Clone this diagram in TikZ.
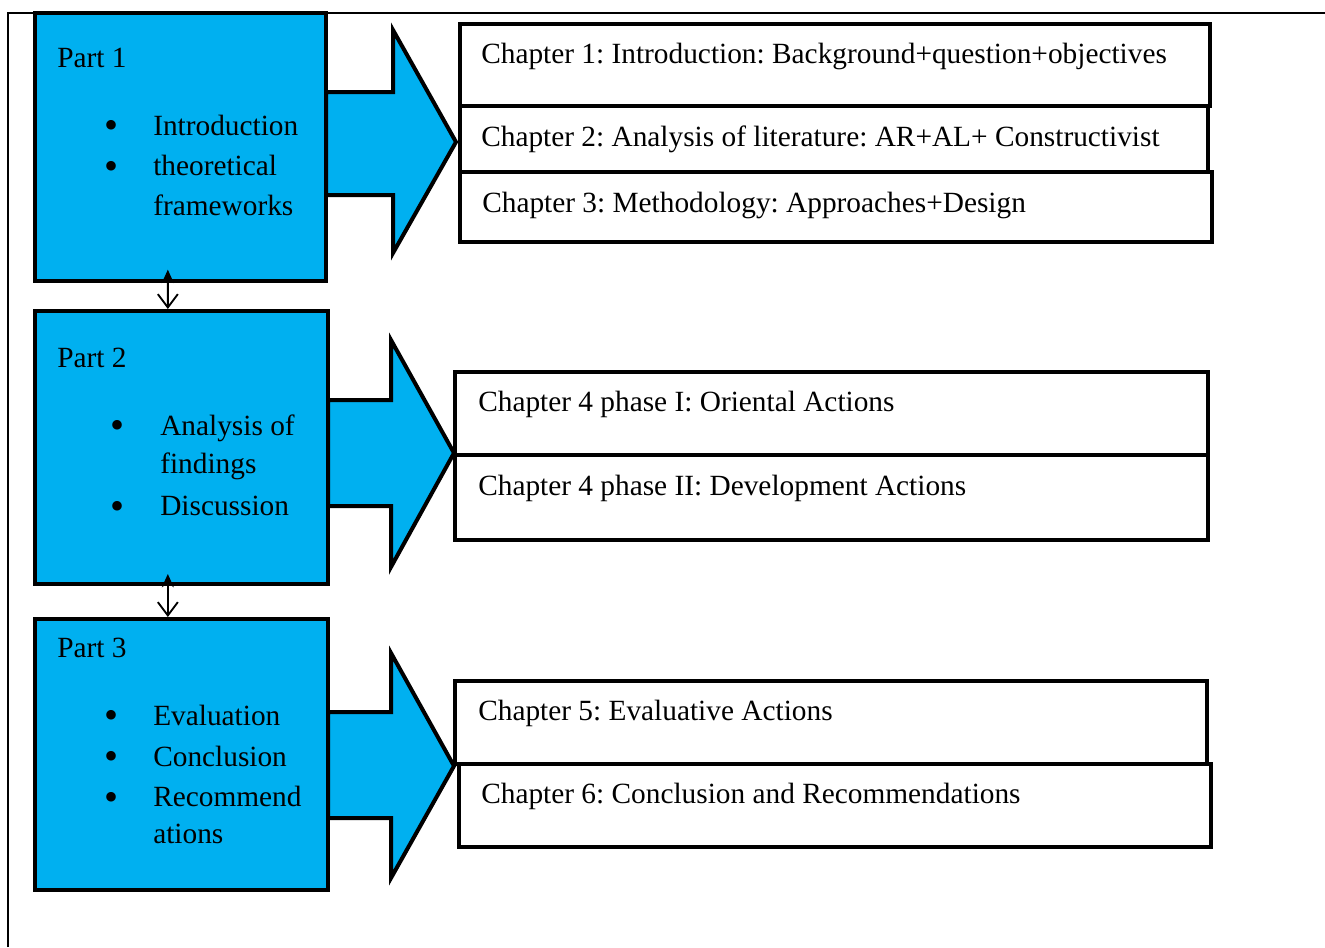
\documentclass[tikz,border=0pt]{standalone}
\usepackage{fontspec}
\setmainfont{Liberation Serif}
\usepackage{tikz}
\usetikzlibrary{calc,arrows.meta}
\definecolor{partblue}{HTML}{00B0F0}
\frenchspacing

\tikzset{
  partbox/.style={draw, fill=partblue, line width=3pt, inner sep=0pt},
  chapbox/.style={draw, line width=3pt},
  bigarrow/.style={draw, fill=partblue, line width=3pt, line join=miter},
  txt/.style={anchor=base west, inner sep=0pt, font=\fontsize{22pt}{30pt}\selectfont},
  bul/.style={anchor=base, inner sep=0pt, font=\fontsize{30pt}{30pt}\selectfont},
  link/.style={line width=1.4pt, {Stealth[length=10pt,width=9pt]}-{Straight Barb[length=10pt,width=15pt]}}
}

\begin{document}
\begin{tikzpicture}[x=0.75pt,y=0.75pt,yscale=-1,xscale=1]
\useasboundingbox (0,0) rectangle (1325,947);

%Frame
\draw [line width=1.2pt] (8,947) -- (8,13) -- (1325,13) ;

%Shape: Right Arrow
\draw [bigarrow] (326,92) -- (393,92) -- (393,30) -- (456,142) -- (393,253) -- (393,195) -- (326,195) -- cycle ;
%Shape: Right Arrow
\draw [bigarrow] (328,400) -- (391,400) -- (391,340) -- (454,453) -- (391,567) -- (391,506) -- (328,506) -- cycle ;
%Shape: Right Arrow
\draw [bigarrow] (328,712) -- (391,712) -- (391,653) -- (454,766) -- (391,878) -- (391,818) -- (328,818) -- cycle ;

%Shape: Rectangle (parts)
\node [partbox, minimum width=218pt, minimum height=201pt] (part1) at (180.5,147) {};
\node [partbox, minimum width=219.75pt, minimum height=204.75pt] (part2) at (181.5,447.5) {};
\node [partbox, minimum width=219.75pt, minimum height=203.25pt] (part3) at (181.5,754.5) {};

%Shape: Rectangle (chapters)
\draw [chapbox] (460,24) rectangle (1210,106) ;
\draw [chapbox] (460,106) rectangle (1208,172) ;
\draw [chapbox] (460,172) rectangle (1212,242) ;
\draw [chapbox] (455,372) rectangle (1208,455) ;
\draw [chapbox] (455,455) rectangle (1208,540) ;
\draw [chapbox] (455,681) rectangle (1207,764) ;
\draw [chapbox] (459,764) rectangle (1211,847) ;

% Text Node
\node [txt] (p1title) at (57,67) {Part 1};
\node [bul] (p1b1) at (112,138) {\textbullet};
\node [txt] (p1i1) at (153,135) {Introduction};
\node [bul] (p1b2) at (112,179) {\textbullet};
\node [txt] (p1i2) at (153,175) {theoretical};
\node [txt] (p1i3) at (153,215) {frameworks};
% Text Node
\node [txt] (p2title) at (57,367) {Part 2};
\node [bul] (p2b1) at (118,438) {\textbullet};
\node [txt] (p2i1) at (160,435) {Analysis of};
\node [txt] (p2i2) at (160,473) {findings};
\node [bul] (p2b2) at (118,519) {\textbullet};
\node [txt] (p2i3) at (160,515) {Discussion};
% Text Node
\node [txt] (p3title) at (57,657) {Part 3};
\node [bul] (p3b1) at (112,728) {\textbullet};
\node [txt] (p3i1) at (153,725) {Evaluation};
\node [bul] (p3b2) at (112,769) {\textbullet};
\node [txt] (p3i2) at (153,766) {Conclusion};
\node [bul] (p3b3) at (112,810) {\textbullet};
\node [txt] (p3i3) at (153,806) {Recommend};
\node [txt] (p3i4) at (153,843) {ations};

% Text Node
\node [txt] (ch1) at (481,63) {Chapter 1: Introduction: Background+question+objectives};
\node [txt] (ch2) at (481,146) {Chapter 2: Analysis of literature: AR+AL+ Constructivist};
\node [txt] (ch3) at (482,212) {Chapter 3: Methodology: Approaches+Design};
\node [txt] (ch4a) at (478,411) {Chapter 4 phase I: Oriental Actions};
\node [txt] (ch4b) at (478,495) {Chapter 4 phase II: Development Actions};
\node [txt] (ch5) at (478,720) {Chapter 5: Evaluative Actions};
\node [txt] (ch6) at (481,803) {Chapter 6: Conclusion and Recommendations};

%Straight Lines
\draw [link, shorten <=-10pt] ($(part1.south west)!0.457!(part1.south east)$) -- ($(part2.north west)!0.454!(part2.north east)$) ;
\draw [link, shorten <=-9pt] ($(part2.south west)!0.454!(part2.south east)$) -- ($(part3.north west)!0.454!(part3.north east)$) ;

\end{tikzpicture}
\end{document}
